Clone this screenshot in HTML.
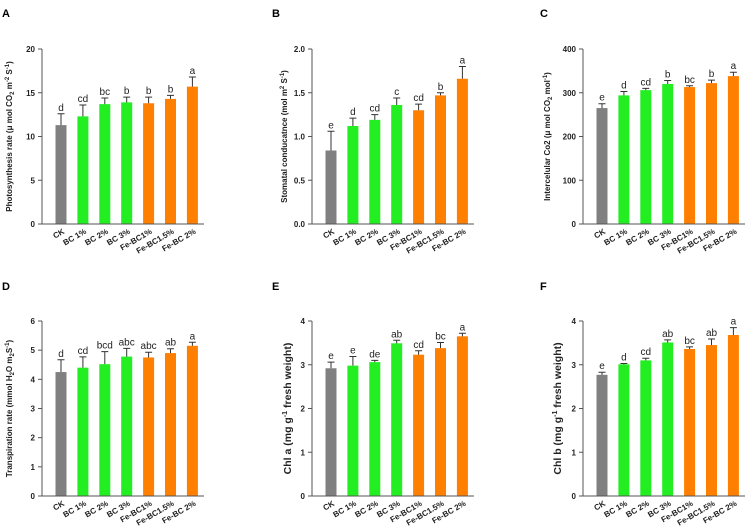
<!DOCTYPE html>
<html><head><meta charset="utf-8"><style>
body{margin:0;background:#fff;}
svg{display:block;font-family:"Liberation Sans",Arial,sans-serif;}
</style></head><body>
<svg id="fig" width="756" height="527" viewBox="0 0 756 527"></svg>
<script>
const categories=["CK","BC 1%","BC 2%","BC 3%","Fe-BC1%","Fe-BC1.5%","Fe-BC 2%"];
const groupColors=["#808080","#22ee22","#22ee22","#22ee22","#ff8000","#ff8000","#ff8000"];
const valuesA=[11.3,12.3,13.7,13.9,13.8,14.3,15.7];
const errorsA=[1.3,1.3,0.7,0.6,0.7,0.4,1.1];
const lettersA=["d","cd","bc","b","b","b","a"];
const ticksA=[0,5,10,15,20];
const valuesB=[0.84,1.12,1.19,1.36,1.30,1.47,1.66];
const errorsB=[0.22,0.09,0.06,0.08,0.07,0.03,0.14];
const lettersB=["e","d","cd","c","cd","b","a"];
const ticksB=["0.0","0.5","1.0","1.5","2.0"];
const valuesC=[265,294,306,320,313,322,338];
const errorsC=[10,9,4,8,3,7,9];
const lettersC=["e","d","cd","b","bc","b","a"];
const ticksC=[0,100,200,300,400];
const valuesD=[4.25,4.4,4.52,4.78,4.75,4.9,5.15];
const errorsD=[0.42,0.37,0.43,0.28,0.18,0.15,0.12];
const lettersD=["d","cd","bcd","abc","abc","ab","a"];
const ticksD=[0,1,2,3,4,5,6];
const valuesE=[2.92,2.98,3.06,3.49,3.23,3.38,3.65];
const errorsE=[0.14,0.21,0.04,0.07,0.09,0.13,0.07];
const lettersE=["e","e","de","ab","cd","bc","a"];
const ticksE=[0,1,2,3,4];
const valuesF=[2.77,3.01,3.1,3.51,3.36,3.45,3.68];
const errorsF=[0.06,0.02,0.05,0.06,0.05,0.14,0.17];
const lettersF=["e","d","cd","ab","bc","ab","a"];
const ticksF=[0,1,2,3,4];

const NS="http://www.w3.org/2000/svg";
const svg=document.getElementById('fig');
function mk(tag,attrs,parent,text){const e=document.createElementNS(NS,tag);for(const k in attrs)e.setAttribute(k,attrs[k]);if(text!==undefined)e.textContent=text;parent.appendChild(e);return e;}

function panel(o){
  const g=mk('g',{},svg);
  
  
  const x0=o.ax, yTop=o.top, yZero=o.zero, xEnd=o.ax+162;
  const ymax=parseFloat(o.ticks[o.ticks.length-1]);
  const Y=v=>yZero-(v/ymax)*(yZero-yTop);
  const X=i=>x0+19+i*21.9;
  const lab=mk('text',{x:o.lx,y:o.ly,'font-size':11,'font-weight':'bold'},g,o.id);
  
  
  // bars
  o.values.forEach((v,i)=>{
    const b=mk('rect',{x:X(i)-5.5,y:Y(v),width:11,height:yZero-Y(v),fill:groupColors[i]},g);
    
    
    const ye=Y(v+o.errors[i]);
    const eb=mk('path',{d:`M${X(i)} ${Y(v)}V${ye}M${X(i)-3.5} ${ye}H${X(i)+3.5}`,stroke:'#333','stroke-width':1,fill:'none'},g);
    
    
    const t=mk('text',{x:X(i),y:ye-3,'font-size':10,'text-anchor':'middle',fill:'#222'},g,o.letters[i]);
    
    
    const xl=mk('text',{x:0,y:0,'font-size':8,'font-weight':'bold','text-anchor':'end',fill:'#222',transform:`translate(${X(i)+4},${yZero+9}) rotate(-30)`},g,categories[i]);
    
    
  });
  // axes
  const ax=mk('path',{d:`M${x0} ${yTop}V${yZero}H${xEnd}`,stroke:'#555','stroke-width':1,fill:'none'},g);
  
  
  o.ticks.forEach(t=>{
    const y=Y(parseFloat(t));
    mk('line',{x1:x0-4,x2:x0,y1:y,y2:y,stroke:'#555'},g);
    const tl=mk('text',{x:x0-7,y:y+3,'font-size':8,'font-weight':'bold','text-anchor':'end',fill:'#222'},g,String(t));
    
    
  });
  const yt=mk('text',{x:0,y:0,'font-size':o.tfs,'font-weight':'bold','text-anchor':'middle',fill:'#222',transform:`translate(${o.tx},${(yTop+yZero)/2}) rotate(-90)`},g);
  
  
  yt.innerHTML=o.title;
}
const topR={top:49,zero:224,ly:17}, botR={top:321,zero:496,ly:290};
panel({id:'A',ax:42,lx:2,...topR,values:valuesA,errors:errorsA,letters:lettersA,ticks:ticksA,tx:12,tfs:8,
 title:'Photosynthesis rate (μ mol CO<tspan font-size="6" dy="2">2</tspan><tspan dy="-2"> m</tspan><tspan font-size="6" dy="-3">-2</tspan><tspan dy="3"> S</tspan><tspan font-size="6" dy="-3">-1</tspan><tspan dy="3">)</tspan>'});
panel({id:'B',ax:312,lx:272,...topR,values:valuesB,errors:errorsB,letters:lettersB,ticks:ticksB,tx:287,tfs:8,
 title:'Stomatal conducatnce (mol m<tspan font-size="6" dy="-3">2</tspan><tspan dy="3"> S</tspan><tspan font-size="6" dy="-3">-1</tspan><tspan dy="3">)</tspan>'});
panel({id:'C',ax:583,lx:540,...topR,values:valuesC,errors:errorsC,letters:lettersC,ticks:ticksC,tx:550,tfs:8,
 title:'Intercelular Co2 (μ mol CO<tspan font-size="6" dy="2">2</tspan><tspan dy="-2"> mol</tspan><tspan font-size="6" dy="-3">-1</tspan><tspan dy="3">)</tspan>'});
panel({id:'D',ax:42,lx:2,...botR,values:valuesD,errors:errorsD,letters:lettersD,ticks:ticksD,tx:12,tfs:8,
 title:'Transpiration rate (mmol H<tspan font-size="6" dy="2">2</tspan><tspan dy="-2">O m</tspan><tspan font-size="6" dy="2">2</tspan><tspan dy="-2">S</tspan><tspan font-size="6" dy="-3">-1</tspan><tspan dy="3">)</tspan>'});
panel({id:'E',ax:312,lx:272,...botR,values:valuesE,errors:errorsE,letters:lettersE,ticks:ticksE,tx:291,tfs:10.5,
 title:'Chl a (mg g<tspan font-size="7" dy="-4">-1</tspan><tspan dy="4"> fresh weight)</tspan>'});
panel({id:'F',ax:583,lx:540,...botR,values:valuesF,errors:errorsF,letters:lettersF,ticks:ticksF,tx:561,tfs:10.5,
 title:'Chl b (mg g<tspan font-size="7" dy="-4">-1</tspan><tspan dy="4"> fresh weight)</tspan>'});
</script>
</body></html>
